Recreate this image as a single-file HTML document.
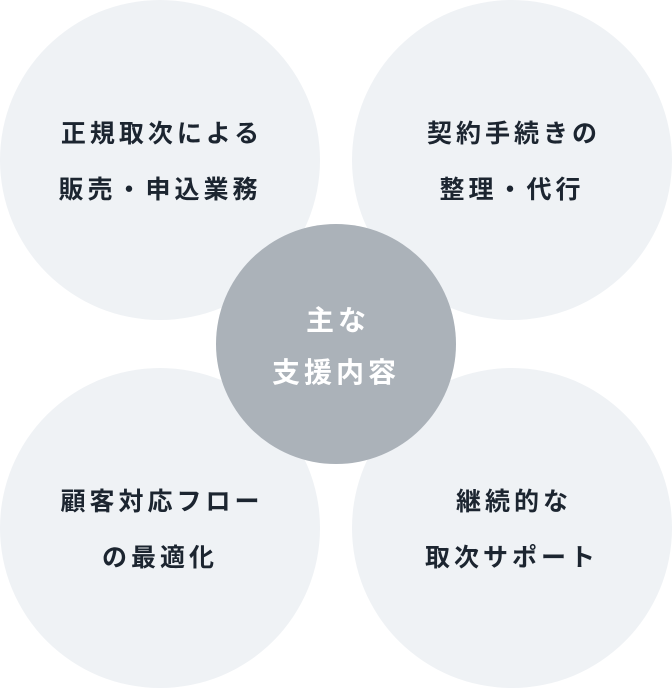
<!DOCTYPE html>
<html><head><meta charset="utf-8"><style>
body{margin:0;width:672px;height:688px;background:#fff;position:relative;overflow:hidden;font-family:"Liberation Sans","Noto Sans CJK JP",sans-serif;}
.c{position:absolute;border-radius:50%;background:#eff2f5;width:320px;height:320px;}
.t{position:absolute;width:320px;text-align:center;font-weight:bold;font-size:25px;color:#1c2530;letter-spacing:4px;text-indent:4px;line-height:56px;}
.m{position:absolute;left:216px;top:224px;width:240px;height:240px;border-radius:50%;background:#abb2b9;}
.mt{position:absolute;left:216px;width:240px;text-align:center;font-weight:bold;font-size:28px;color:#fff;letter-spacing:4px;text-indent:4px;line-height:52px;top:295px;}
</style></head><body>
<div class="c" style="left:0;top:0"></div>
<div class="c" style="left:352px;top:0"></div>
<div class="c" style="left:0;top:368px"></div>
<div class="c" style="left:352px;top:368px"></div>
<div class="t" style="left:0;top:106px">正規取次による<br>販売・申込業務</div>
<div class="t" style="left:352px;top:106px">契約手続きの<br>整理・代行</div>
<div class="t" style="left:0;top:474px">顧客対応フロー<br>の最適化</div>
<div class="t" style="left:352px;top:474px">継続的な<br>取次サポート</div>
<div class="m"></div>
<div class="mt">主な<br>支援内容</div>
</body></html>
